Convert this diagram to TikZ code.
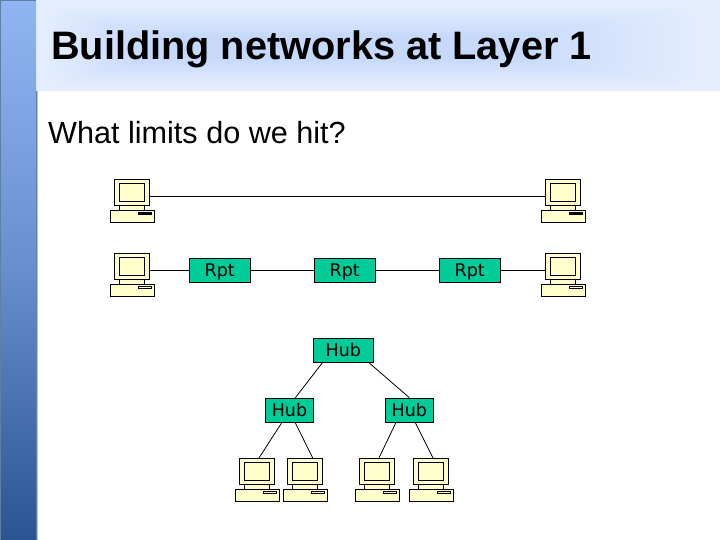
\documentclass[tikz,border=0pt]{standalone}
\usepackage{fontspec}
\setmainfont{Liberation Sans}
\newfontfamily\boxfont{DejaVu Sans}
\definecolor{cream}{HTML}{FFFFCC}
\definecolor{boxgreen}{HTML}{00CC99}
\definecolor{bandout}{HTML}{E4EDFE}
\definecolor{bandin}{HTML}{C6D9FB}
\definecolor{striptop}{HTML}{90B6F2}
\definecolor{stripbot}{HTML}{2A5492}
\definecolor{stripedge}{HTML}{5F7FA8}
\definecolor{stripglow}{HTML}{A8C2EE}
\tikzset{
  netbox/.style={draw=black,fill=boxgreen,line width=0.8pt,inner sep=0pt,font=\boxfont\fontsize{17.5}{19}\selectfont,text=black,text height=12.7pt,text depth=0pt},
  wire/.style={draw=black,line width=0.8pt},
  cpart/.style={draw=black,fill=cream,line width=0.8pt},
  mon/.style={cpart,rectangle,minimum width=35.5pt,minimum height=26.5pt,inner sep=0pt,outer sep=0pt},
  pics/computer/.style={code={
    \draw[cpart] (5.5,26.5) rectangle (30,31);
    \draw[cpart] (-4,31) rectangle (40.5,43);
    \draw[draw=black,fill=#1,line width=0.8pt] (24,33.5) rectangle (37.5,35.5);
    \node[mon] (-mon) at (17.75,13.25) {};
    \draw[cpart] (5,4.5) rectangle (30.5,22);
  }},
  pics/computer/.default=cream
}
\begin{document}
\begin{tikzpicture}[x=1pt,y=-1pt]
\useasboundingbox (0,0) rectangle (720,540);
% background
\fill[white] (0,0) rectangle (720,540);
\fill[bandout] (36,0) rectangle (720,91);
\begin{scope}
\clip (36,0) rectangle (720,91);
\foreach \i in {0,1,...,20}{
  \pgfmathsetmacro{\m}{\i*5}
  \fill[bandin!\m!bandout,rounded corners=14pt]
    (44+\i*5,7+\i*1.5) rectangle (705-\i*9.5,85-\i*1.3);
}
\end{scope}
\shade[top color=striptop,bottom color=stripbot,middle color=striptop!60!stripbot,shading angle=0] (0,0) rectangle (36,540);
\draw[stripglow,line width=1pt] (37.5,91) -- (37.5,540);
\draw[stripedge,line width=0.8pt] (36.4,91) -- (36.4,540);
\draw[stripedge,line width=0.6pt] (0.3,540) -- (0.3,0.3) -- (36,0.3);
% texts
\node[anchor=base west,inner sep=0pt,font=\fontsize{39.7}{44}\selectfont\bfseries] (title) at (51,60) {Building networks at Layer 1};
\node[anchor=base west,inner sep=0pt,font=\fontsize{30.6}{34}\selectfont] (sub) at (48,144) {What limits do we hit?};
% computers
\pic (a) at (114,179) {computer=black};
\pic (b) at (545,179) {computer=black};
\pic (c) at (114,253) {computer};
\pic (d) at (545,253) {computer};
\pic[xscale=.98,transform shape] (e) at (239.5,458) {computer};
\pic[xscale=.98,transform shape] (f) at (287.5,458) {computer};
\pic[xscale=.98,transform shape] (g) at (359.5,458) {computer};
\pic[xscale=.98,transform shape] (h) at (413.5,458) {computer};
% boxes
\node[netbox,minimum width=61pt,minimum height=24.5pt] (r1) at (219.7,270.3) {Rpt};
\node[netbox,minimum width=61pt,minimum height=24.5pt] (r2) at (344.7,270.3) {Rpt};
\node[netbox,minimum width=61pt,minimum height=24.5pt] (r3) at (469.7,270.3) {Rpt};
\node[netbox,minimum width=60.5pt,minimum height=24.5pt] (h0) at (343.3,350.3) {Hub};
\node[netbox,minimum width=48pt,minimum height=24.5pt] (h1) at (289.5,410.3) {Hub};
\node[netbox,minimum width=48.5pt,minimum height=24.5pt] (h2) at (409.3,410.3) {Hub};
% connectors
\draw[wire] (a-mon.-12) -- (b-mon.192);
\draw[wire] (c-mon.-12) -- (r1.west |- c-mon.-12);
\draw[wire] (r1) -- (r2);
\draw[wire] (r2) -- (r3);
\draw[wire] (r3.east |- d-mon.192) -- (d-mon.192);
\draw[wire] (h0.211) -- (h1.65);
\draw[wire] (h0.-26) -- (h2.north);
\draw[wire] (h1.238) -- (e-mon.81);
\draw[wire] (h1.-65) -- (f-mon.59);
\draw[wire] (h2.223) -- (g-mon.81);
\draw[wire] (h2.-64) -- (h-mon.81);
\end{tikzpicture}
\end{document}
